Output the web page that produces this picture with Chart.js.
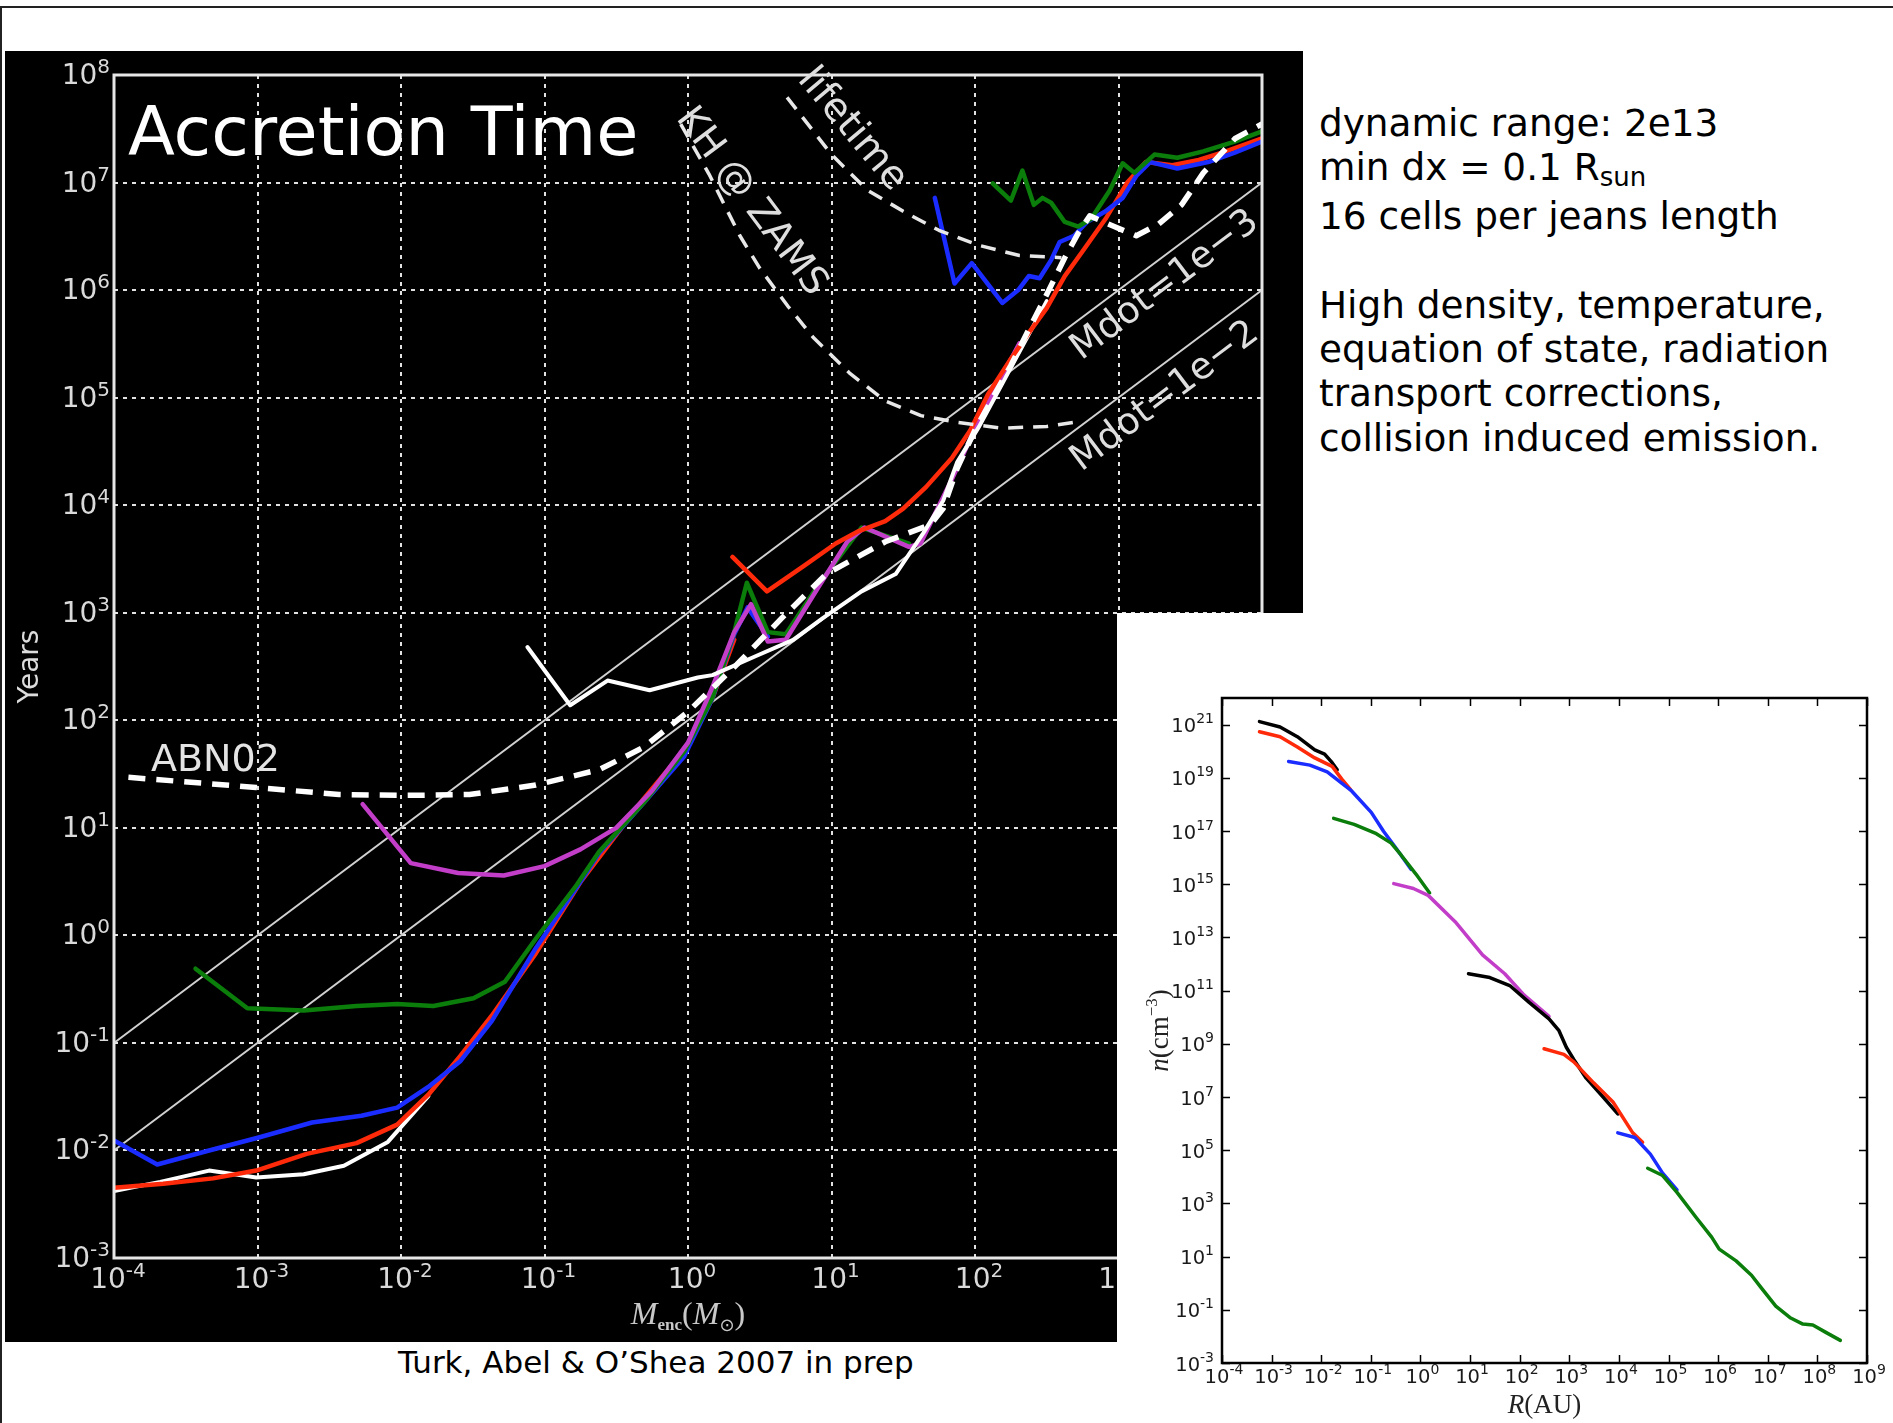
<!DOCTYPE html>
<html>
<head>
<meta charset="utf-8">
<script src="https://cdn.jsdelivr.net/npm/chart.js@4.4.0/dist/chart.umd.min.js"></script>
<style>
body { margin: 0; width: 1893px; height: 1423px; background: #fff; position: relative; overflow: hidden; font-family: "DejaVu Sans", sans-serif; }
#ruleTop { position: absolute; left: 0; top: 6px; width: 1893px; height: 2px; background: #222; }
#ruleLeft { position: absolute; left: 0; top: 6px; width: 2px; height: 1417px; background: #222; }
#main { position: absolute; left: 5px; top: 51px; background: #000; }
#cover { position: absolute; left: 1117px; top: 613px; width: 776px; height: 810px; background: #fff; }
#inset { position: absolute; left: 1120px; top: 680px; }
#notes { position: absolute; left: 1319px; top: 101px; font-size: 37.4px; line-height: 44.4px; color: #000; white-space: nowrap; }
#notes .sub { font-size: 26px; position: relative; top: 6px; }
#caption { position: absolute; left: 398px; top: 1347px; font-size: 31px; line-height: 31px; color: #000; white-space: nowrap; }
</style>
</head>
<body>
<div id="ruleTop"></div>
<div id="ruleLeft"></div>
<canvas id="main" width="1298" height="1291"></canvas>
<div id="cover"></div>
<canvas id="inset" width="773" height="743"></canvas>
<div id="notes">dynamic range: 2e13<br>min dx = 0.1 R<span class="sub">sun</span><br>16 cells per jeans length<br><br>High density, temperature,<br>equation of state, radiation<br>transport corrections,<br>collision induced emission.</div>
<div id="caption">Turk, Abel &amp; O’Shea 2007 in prep</div>

<script>
// main panel: enclosed mass (Msun) vs accretion time (years)
var massTicks = [1e-4, 1e-3, 1e-2, 1e-1, 1, 10, 100, 1000, 1e4];
var yearTicks = [1e-3, 1e-2, 1e-1, 1, 10, 100, 1000, 1e4, 1e5, 1e6, 1e7, 1e8];

var white1 = [[1.0e-4,4.2e-3],[2.1e-4,5.1e-3],[4.6e-4,6.5e-3],[9.8e-4,5.6e-3],[2.1e-3,6.0e-3],[4.0e-3,7.2e-3],[8.1e-3,1.2e-2],[1.55e-2,3.2e-2]];
var red2 = [[1.0e-4,4.5e-3],[2.2e-4,4.9e-3],[4.9e-4,5.5e-3],[9.8e-4,6.5e-3],[2.2e-3,9.3e-3],[4.9e-3,1.17e-2],[9.4e-3,1.74e-2],[1.55e-2,3.3e-2],[2.6e-2,7.6e-2],[4.3e-2,0.18],[8.7e-2,0.68],[0.18,3.2],[0.49,18.6],[1.0,58],[1.48,160],[2.1,560]];
var blue3 = [[1.0e-4,1.24e-2],[2.0e-4,7.4e-3],[4.6e-4,1.0e-2],[1.02e-3,1.32e-2],[2.4e-3,1.82e-2],[5.3e-3,2.1e-2],[9.4e-3,2.5e-2],[1.55e-2,3.9e-2],[2.6e-2,6.8e-2],[4.3e-2,0.16],[8.7e-2,0.76],[0.168,2.8],[0.24,5.8],[0.49,17],[0.94,46],[1.48,160],[2.1,630],[2.6,1120],[3.6,600]];
var green4 = [[3.7e-4,0.49],[8.5e-4,0.21],[2.1e-3,0.20],[4.9e-3,0.22],[9.4e-3,0.23],[1.68e-2,0.22],[3.2e-2,0.26],[5.3e-2,0.37],[8.7e-2,0.93],[0.168,2.95],[0.24,6.0],[0.49,17],[0.94,51],[1.48,162],[2.1,660],[2.57,1900],[3.6,660],[4.8,630],[8.3,1900],[16.2,6200],[34.7,4400]];
var magenta5 = [[5.4e-3,16.6],[1.17e-2,4.7],[2.5e-2,3.8],[5.2e-2,3.6],[0.10,4.4],[0.178,6.3],[0.316,10],[0.56,22],[1.0,62],[1.48,204],[2.1,660],[2.75,1200],[3.6,540],[4.8,560],[8.3,1820],[12.9,4600],[17,6200],[34.7,4100],[41.7,4400],[69,17400],[107,63000],[204,3.2e5]];
var white6 = [[7.6e-2,480],[0.151,138],[0.275,234],[0.54,190],[1.17,250],[1.48,263],[2.9,390],[5.4,560],[8.7,890],[16.2,1580],[28,2290],[43.6,5500],[60,11000],[75,25000],[107,54000],[155,1.35e5],[316,7.9e5]];
var red7 = [[2.04,3300],[3.55,1580],[6.5,2750],[10.7,4400],[15.5,5750],[23.7,7100],[31.6,9300],[45.7,14800],[69,27500],[93,50000],[123,1.07e5],[178,2.3e5],[237,4.0e5],[316,6.8e5],[422,1.35e6],[562,2.3e6],[813,4.6e6],[1150,1.0e7],[1550,1.55e7],[2370,1.45e7],[3630,1.62e7],[5600,1.95e7],[1.0e4,2.57e7]];
var blue8 = [[52.5,7.2e6],[72,1.15e6],[95,1.78e6],[155,7.6e5],[200,1.0e6],[237,1.35e6],[282,1.29e6],[339,1.9e6],[389,2.8e6],[490,3.2e6],[603,4.3e6],[813,5.4e6],[1070,7.2e6],[1330,1.15e7],[1660,1.55e7],[2570,1.35e7],[4220,1.55e7],[6460,1.9e7],[1.0e4,2.4e7]];
var green9 = [[133,9.8e6],[178,6.8e6],[214,1.29e7],[257,6.2e6],[295,7.2e6],[339,6.5e6],[422,4.3e6],[525,3.9e6],[646,4.6e6],[871,8.5e6],[1070,1.51e7],[1290,1.23e7],[1780,1.82e7],[2570,1.7e7],[3890,1.95e7],[6460,2.4e7],[1.0e4,3.0e7]];

var abn02 = [[1.26e-4,29.5],[9.8e-4,23.7],[3.7e-3,20.4],[1.02e-2,20],[3.0e-2,20.4],[8.7e-2,25],[0.24,34.7],[0.49,56],[1.0,120],[2.19,330],[4.5,890],[9.2,2290],[23.7,4570],[49,6600],[60,9300],[75,21900],[100,50000],[133,1.0e5],[178,2.0e5],[237,4.3e5],[316,9.1e5],[422,2.0e6],[525,3.4e6],[631,4.9e6],[933,3.9e6],[1330,3.2e6],[1900,4.1e6],[2750,6.2e6],[3900,1.23e7],[6500,2.57e7],[1.0e4,3.5e7]];
var khZams = [[0.89,3.5e7],[1.4,1.2e7],[2.3,3.2e6],[3.16,1.6e6],[5.0,7.0e5],[7.5,3.6e5],[13.3,1.7e5],[23.7,9.3e4],[42,6.8e4],[75,5.9e4],[155,5.2e4],[316,5.4e4],[490,5.9e4]];
var lifetime = [[4.9,6.2e7],[10,1.82e7],[17.8,8.5e6],[31.6,5.4e6],[56,3.6e6],[107,2.6e6],[204,2.1e6],[400,2.0e6]];
var mdot3 = [[1e-4,0.1],[1e4,1e7]];
var mdot2 = [[1e-4,0.01],[1e4,1e6]];

// inset: radius (AU) vs number density (cm^-3)
var radiusTicks = [1e-4, 1e-3, 1e-2, 1e-1, 1, 10, 100, 1e3, 1e4, 1e5, 1e6, 1e7, 1e8, 1e9];
var densityTicks = [1e-3, 1e-1, 10, 1e3, 1e5, 1e7, 1e9, 1e11, 1e13, 1e15, 1e17, 1e19, 1e21];

var nBlack1 = [[5.7e-4,1.3e21],[1.48e-3,8.1e20],[3.3e-3,3.5e20],[7.4e-3,1.12e20],[1.17e-2,7.8e19],[1.66e-2,3.7e19],[2.1e-2,2.0e19]];
var nRed2 = [[5.7e-4,5.4e20],[1.48e-3,3.5e20],[3.3e-3,1.45e20],[7.4e-3,5.6e19],[1.66e-2,2.7e19],[2.6e-2,8.9e18],[3.9e-2,3.6e18]];
var nBlue3 = [[2.2e-3,4.1e19],[5.9e-3,3.0e19],[1.32e-2,1.66e19],[4.1e-2,3.2e18],[0.102,5.0e17],[0.18,9.8e16],[0.32,2.3e16],[0.65,3.6e15]];
var nGreen4 = [[1.78e-2,3.0e17],[4.6e-2,1.78e17],[0.129,7.9e16],[0.257,3.5e16],[0.41,1.23e16],[0.81,2.4e15],[1.53,4.7e14]];
var nMagenta5 = [[0.29,1.05e15],[0.72,6.9e14],[1.43,3.8e14],[5.0,3.9e13],[17.8,2.2e12],[50,4.3e11],[123,6.8e10],[390,1.07e10]];
var nBlack6 = [[9.3,4.3e11],[25,3.1e11],[63,1.55e11],[155,3.6e10],[390,8.7e9],[620,3.1e9],[870,7.4e8],[1230,2.6e8],[2190,5.1e7],[4800,1.0e7],[9500,2.3e6]];
var nRed7 = [[310,6.5e8],[776,4.0e8],[1230,2.1e8],[3090,3.4e7],[7600,6.5e6],[1.9e4,4.5e5],[3.0e4,2.0e5]];
var nBlue8 = [[9500,4.5e5],[2.1e4,3.0e5],[4.3e4,7.1e4],[7.6e4,1.38e4],[1.48e5,3.2e3]];
var nGreen9 = [[3.8e4,2.1e4],[7.6e4,1.12e4],[1.48e5,2.6e3],[3.7e5,275],[7.4e5,54],[1.05e6,19],[2.3e6,6.9],[4.7e6,2.0],[7.2e6,0.71],[1.45e7,0.138],[2.9e7,0.049],[5.1e7,0.029],[8.1e7,0.027],[1.45e8,0.0145],[2.9e8,0.0071]];

var RED = "#ff2a0a", BLUE = "#1a2cff", GREEN = "#0b7d0b", MAGENTA = "#c23ec8", WHITE = "#ffffff";

// text placed on the main panel, anchored in data coordinates
var notes = [
  { text: "Accretion Time", at: [1.25e-4, 1.8e7], angle: 0, size: 68.5, align: "left", base: "alphabetic", color: "#ffffff" },
  { text: "KH @ ZAMS", at: [2.75, 6.6e6], angle: 53, size: 38, align: "center", base: "middle", color: "#dedede" },
  { text: "lifetime", at: [13.9, 3.1e7], angle: 50, size: 39, align: "center", base: "middle", color: "#dedede" },
  { text: "Mdot=1e−3", at: [2110, 1.1e6], angle: -37, size: 37, align: "center", base: "middle", color: "#dedede" },
  { text: "Mdot=1e−2", at: [2110, 1.02e5], angle: -37, size: 37, align: "center", base: "middle", color: "#dedede" },
  { text: "ABN02", at: [1.81e-4, 33.6], angle: 0, size: 38, align: "left", base: "alphabetic", color: "#e4e4e4" }
];

Chart.defaults.font.family = '"DejaVu Sans", sans-serif';

function pts(a) {
  return a.map(function (p) { return { x: p[0], y: p[1] }; });
}
function serie(a, color, width, dash) {
  return {
    data: pts(a), borderColor: color, borderWidth: width, borderDash: dash || [],
    pointRadius: 0, tension: 0, fill: false,
    borderJoinStyle: "round", borderCapStyle: dash ? "butt" : "round"
  };
}
function drawRuns(ctx, runs, x, y) {
  var w = 0;
  runs.forEach(function (r) { ctx.font = r[1]; w += ctx.measureText(r[0]).width; });
  var cx = x - w / 2;
  runs.forEach(function (r) {
    ctx.font = r[1];
    ctx.fillText(r[0], cx, y + (r[2] || 0));
    cx += ctx.measureText(r[0]).width;
  });
}

// "10" with a raised exponent, like the matplotlib labels
function drawPow(ctx, value, x, y, st, align) {
  var e = String(Math.round(Math.log10(value)));
  ctx.font = st.base + 'px "DejaVu Sans"';
  var w1 = ctx.measureText("10").width;
  ctx.font = st.exp + 'px "DejaVu Sans"';
  var w2 = ctx.measureText(e).width;
  var left = align === "right" ? x - w1 - w2 : x - (w1 + w2) / 2;
  ctx.font = st.base + 'px "DejaVu Sans"';
  ctx.fillText("10", left, y);
  ctx.font = st.exp + 'px "DejaVu Sans"';
  ctx.fillText(e, left + w1, y - st.rise);
}

function tickLabels(chart, st) {
  var ctx = chart.ctx, a = chart.chartArea, sx = chart.scales.x, sy = chart.scales.y;
  ctx.save();
  ctx.fillStyle = st.color;
  ctx.textAlign = "left";
  ctx.textBaseline = "alphabetic";
  sx.ticks.forEach(function (t) {
    drawPow(ctx, t.value, sx.getPixelForValue(t.value) + st.xShift, a.bottom + st.xDrop, st, "center");
  });
  sy.ticks.forEach(function (t) {
    drawPow(ctx, t.value, a.left - st.yGap, sy.getPixelForValue(t.value) + st.yDrop, st, "right");
  });
  ctx.restore();
}

var mainDecor = {
  id: "mainDecor",
  afterDraw: function (chart) {
    var ctx = chart.ctx, a = chart.chartArea, sx = chart.scales.x, sy = chart.scales.y;
    ctx.save();
    ctx.strokeStyle = "#e6e6e6";
    ctx.lineWidth = 3;
    ctx.strokeRect(a.left, a.top, a.right - a.left, a.bottom - a.top);

    notes.forEach(function (n) {
      ctx.save();
      ctx.translate(sx.getPixelForValue(n.at[0]), sy.getPixelForValue(n.at[1]));
      ctx.rotate(n.angle * Math.PI / 180);
      ctx.fillStyle = n.color;
      ctx.font = n.size + 'px "DejaVu Sans"';
      ctx.textAlign = n.align;
      ctx.textBaseline = n.base;
      ctx.fillText(n.text, 0, 0);
      ctx.restore();
    });

    // axis titles
    ctx.fillStyle = "#c8c8c8";
    ctx.textAlign = "left";
    ctx.textBaseline = "alphabetic";
    drawRuns(ctx, [
      ["M", 'italic 32px "Liberation Serif"'],
      ["enc", 'bold 17px "Liberation Serif"', 6],
      ["(", '32px "Liberation Serif"'],
      ["M", 'italic 32px "Liberation Serif"'],
      ["⊙", '18px "DejaVu Sans"', 7],
      [")", '32px "Liberation Serif"']
    ], (a.left + a.right) / 2, a.bottom + 66);

    ctx.save();
    ctx.translate(a.left - 76, (a.top + a.bottom) / 2);
    ctx.rotate(-Math.PI / 2);
    ctx.fillStyle = "#dcdcdc";
    drawRuns(ctx, [["Years", '28px "DejaVu Sans"']], 0, 0);
    ctx.restore();
    ctx.restore();

    tickLabels(chart, { base: 28, exp: 20, rise: 11, color: "#dadada", xShift: 4, xDrop: 30, yGap: 4, yDrop: 9 });
  }
};

var insetDecor = {
  id: "insetDecor",
  afterDraw: function (chart) {
    var ctx = chart.ctx, a = chart.chartArea, sx = chart.scales.x, sy = chart.scales.y;
    ctx.save();
    ctx.strokeStyle = "#000";
    ctx.lineWidth = 1.5;
    ctx.beginPath();
    sx.ticks.forEach(function (t) {
      var px = Math.round(sx.getPixelForValue(t.value)) + 0.5;
      ctx.moveTo(px, a.bottom); ctx.lineTo(px, a.bottom - 8);
      ctx.moveTo(px, a.top); ctx.lineTo(px, a.top + 8);
    });
    sy.ticks.forEach(function (t) {
      var py = Math.round(sy.getPixelForValue(t.value)) + 0.5;
      ctx.moveTo(a.left, py); ctx.lineTo(a.left + 8, py);
      ctx.moveTo(a.right, py); ctx.lineTo(a.right - 8, py);
    });
    ctx.stroke();
    ctx.lineWidth = 2.5;
    ctx.strokeRect(a.left, a.top, a.right - a.left, a.bottom - a.top);

    ctx.fillStyle = "#222";
    ctx.textAlign = "left";
    ctx.textBaseline = "alphabetic";
    drawRuns(ctx, [
      ["R", 'italic 27px "Liberation Serif"'],
      ["(AU)", '27px "Liberation Serif"']
    ], (a.left + a.right) / 2, a.bottom + 50);

    ctx.save();
    ctx.translate(a.left - 54, (a.top + a.bottom) / 2);
    ctx.rotate(-Math.PI / 2);
    drawRuns(ctx, [
      ["n", 'italic 27px "Liberation Serif"'],
      ["(cm", '27px "Liberation Serif"'],
      ["−3", '17px "Liberation Serif"', -11],
      [")", '27px "Liberation Serif"']
    ], 0, 0);
    ctx.restore();
    ctx.restore();

    tickLabels(chart, { base: 19.5, exp: 14, rise: 9, color: "#1a1a1a", xShift: 2, xDrop: 20, yGap: 8, yDrop: 7.5 });
  }
};

function logAxis(min, max, tickList, box, isX) {
  return {
    type: "logarithmic", min: min, max: max,
    afterBuildTicks: function (s) { s.ticks = tickList.map(function (v) { return { value: v }; }); },
    afterFit: function (s) { if (isX) { s.height = box; } else { s.width = box; } },
    ticks: { display: false, autoSkip: false },
    grid: { display: false, drawTicks: false },
    border: { display: false }
  };
}

var mainX = logAxis(1e-4, 1e4, massTicks, 84, true);
var mainY = logAxis(1e-3, 1e8, yearTicks, 109, false);
[mainX, mainY].forEach(function (ax) {
  ax.grid = { display: true, color: "#e2e2e2", lineWidth: 2, drawTicks: false };
  ax.border = { display: false, dash: [4, 5] };
});

new Chart(document.getElementById("main"), {
  type: "line",
  data: {
    datasets: [
      serie(abn02, WHITE, 5.5, [17, 11]),
      serie(khZams, "#e8e8e8", 3.5, [15, 10]),
      serie(lifetime, "#e8e8e8", 3.5, [15, 10]),
      serie(green9, GREEN, 4.5),
      serie(blue8, BLUE, 4.5),
      serie(red7, RED, 4.5),
      serie(white6, WHITE, 4),
      serie(magenta5, MAGENTA, 4.5),
      serie(green4, GREEN, 4.5),
      serie(blue3, BLUE, 4.5),
      serie(red2, RED, 4.5),
      serie(white1, WHITE, 4),
      serie(mdot3, "#d0d0d0", 1.8),
      serie(mdot2, "#d0d0d0", 1.8)
    ]
  },
  options: {
    responsive: false, animation: false, events: [],
    layout: { padding: { top: 24, right: 41, left: 0, bottom: 0 } },
    plugins: { legend: { display: false }, tooltip: { enabled: false } },
    scales: { x: mainX, y: mainY }
  },
  plugins: [mainDecor]
});

new Chart(document.getElementById("inset"), {
  type: "line",
  data: {
    datasets: [
      serie(nGreen9, GREEN, 3.5),
      serie(nBlue8, BLUE, 3.5),
      serie(nRed7, RED, 3.5),
      serie(nBlack6, "#000000", 3.5),
      serie(nMagenta5, MAGENTA, 3.5),
      serie(nGreen4, GREEN, 3.5),
      serie(nBlue3, BLUE, 3.5),
      serie(nRed2, RED, 3.5),
      serie(nBlack1, "#000000", 3.5)
    ]
  },
  options: {
    responsive: false, animation: false, events: [],
    layout: { padding: { top: 18, right: 26, left: 0, bottom: 0 } },
    plugins: { legend: { display: false }, tooltip: { enabled: false } },
    scales: {
      x: logAxis(1e-4, 1e9, radiusTicks, 60, true),
      y: logAxis(1e-3, 1e22, densityTicks, 102, false)
    }
  },
  plugins: [insetDecor]
});
</script>
</body>
</html>
